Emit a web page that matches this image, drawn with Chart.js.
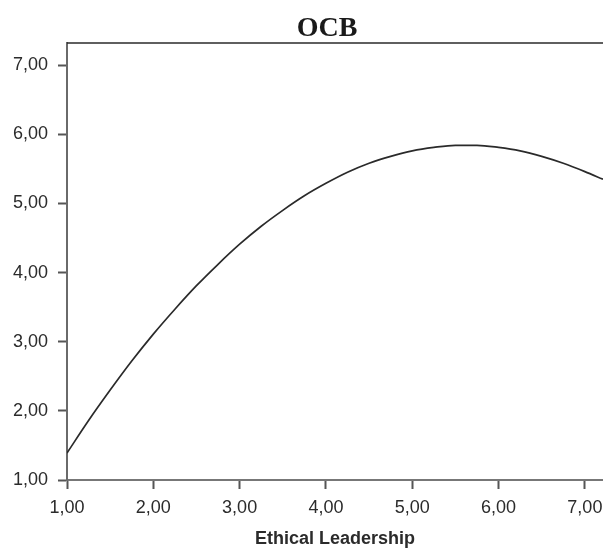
<!DOCTYPE html>
<html>
<head>
<meta charset="utf-8">
<script src="https://cdn.jsdelivr.net/npm/chart.js@4.4.1/dist/chart.umd.min.js"></script>
<style>
  html, body { margin: 0; padding: 0; background: #fff; }
  #wrap { width: 603px; height: 550px; position: relative; }
</style>
</head>
<body>
<div id="wrap"><canvas id="chart"></canvas></div>
<script>
// curve (Ethical Leadership -> OCB)
const leadership = [1.0, 1.25, 1.5, 1.75, 2.0, 2.25, 2.5, 2.75, 3.0, 3.25, 3.5, 3.75, 4.0,
  4.25, 4.5, 4.75, 5.0, 5.25, 5.5, 5.75, 6.0, 6.25, 6.5, 6.75, 7.0, 7.21];
const ocb = [1.39, 1.86, 2.30, 2.72, 3.11, 3.47, 3.81, 4.12, 4.41, 4.67, 4.90, 5.11, 5.29,
  5.45, 5.58, 5.68, 5.76, 5.81, 5.84, 5.84, 5.81, 5.76, 5.68, 5.58, 5.46, 5.35];
const xTicks = [1, 2, 3, 4, 5, 6, 7];
const yTicks = [1, 2, 3, 4, 5, 6, 7];

const fmt = (v) => v.toFixed(2).replace(".", ",");

const points = leadership.map((x, i) => ({ x: x, y: ocb[i] }));

// title + top frame line
const frame = {
  id: "frame",
  afterDraw(chart) {
    const { ctx, chartArea } = chart;
    ctx.save();
    ctx.strokeStyle = "#2a2a2a";
    ctx.lineWidth = 1.5;
    ctx.beginPath();
    ctx.moveTo(chartArea.left, chartArea.top);
    ctx.lineTo(chartArea.right, chartArea.top);
    ctx.stroke();
    ctx.fillStyle = "#1a1a1a";
    ctx.font = "bold 28px 'Liberation Serif', 'Times New Roman', serif";
    ctx.textAlign = "center";
    ctx.textBaseline = "alphabetic";
    ctx.fillText("OCB", 327, 36);
    ctx.restore();
  }
};

const axisFont = { family: "'Liberation Sans', Arial, sans-serif", size: 18 };

new Chart(document.getElementById("chart"), {
  type: "line",
  data: {
    datasets: [
      {
        data: points,
        borderColor: "#2a2a2a",
        borderWidth: 1.7,
        pointRadius: 0,
        cubicInterpolationMode: "monotone",
        fill: false
      }
    ]
  },
  options: {
    responsive: true,
    maintainAspectRatio: false,
    animation: false,
    layout: { padding: { top: 43, right: 0, left: 0, bottom: 0 } },
    plugins: {
      legend: { display: false },
      tooltip: { enabled: false }
    },
    scales: {
      x: {
        type: "linear",
        min: 1,
        max: 7.21,
        afterBuildTicks: (s) => { s.ticks = xTicks.map((v) => ({ value: v })); },
        afterFit: (s) => { s.height = 70; s.paddingRight = 0; },
        ticks: {
          includeBounds: false,
          color: "#2b2b2b",
          font: axisFont,
          padding: 8,
          maxRotation: 0,
          callback: (v) => fmt(v)
        },
        grid: {
          drawOnChartArea: false,
          drawTicks: true,
          tickLength: 9,
          tickColor: "#555",
          tickWidth: 2
        },
        border: { display: true, color: "#777", width: 2 },
        title: {
          display: true,
          text: "Ethical Leadership",
          color: "#2b2b2b",
          font: { family: "'Liberation Sans', Arial, sans-serif", size: 18, weight: "bold" },
          padding: { top: 0, bottom: 0 }
        }
      },
      y: {
        type: "linear",
        min: 1,
        max: 7.32,
        afterBuildTicks: (s) => { s.ticks = yTicks.map((v) => ({ value: v })); },
        afterFit: (s) => { s.width = 67; },
        ticks: {
          includeBounds: false,
          color: "#2b2b2b",
          font: axisFont,
          padding: 10,
          callback: (v) => fmt(v)
        },
        grid: {
          drawOnChartArea: false,
          drawTicks: true,
          tickLength: 9,
          tickColor: "#555",
          tickWidth: 2
        },
        border: { display: true, color: "#6a6a6a", width: 2 }
      }
    }
  },
  plugins: [frame]
});
</script>
</body>
</html>
